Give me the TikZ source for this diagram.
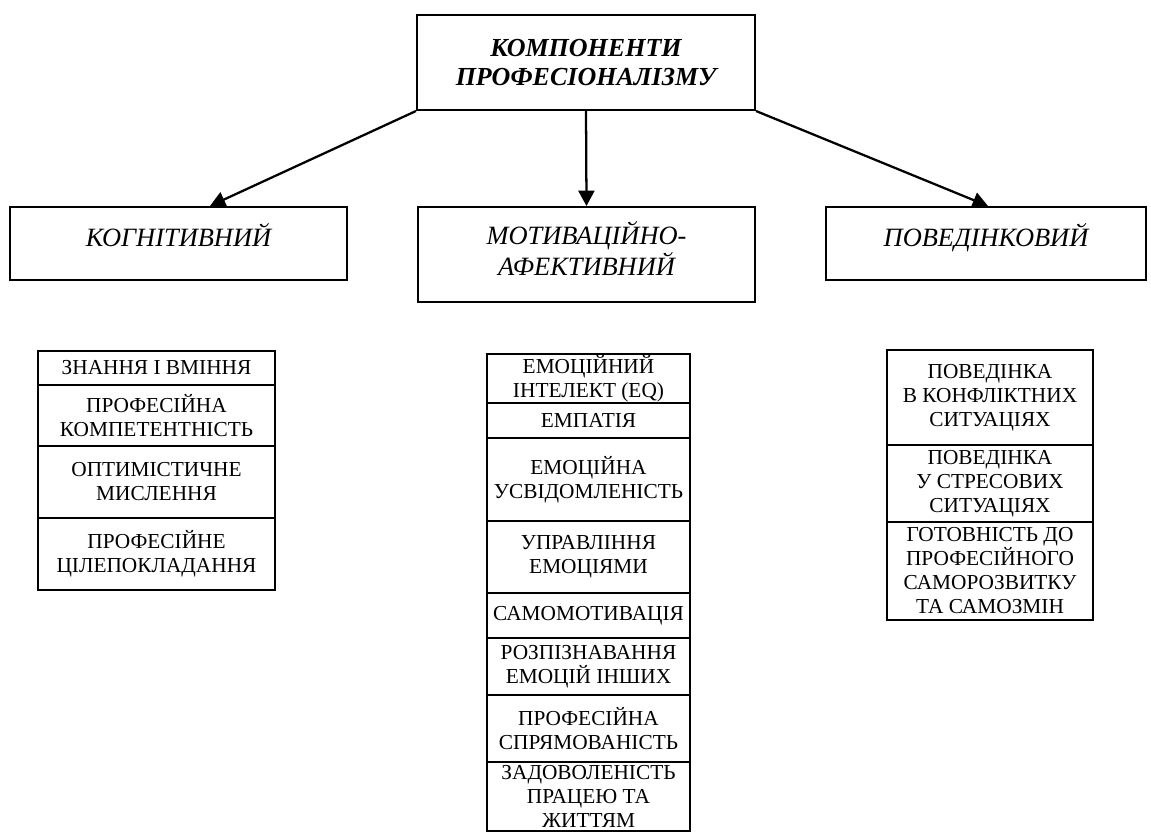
\documentclass[tikz,border=0pt]{standalone}
\usepackage{fontspec}
\setmainfont{Liberation Serif}
\usetikzlibrary{arrows.meta}
\tikzset{
  frame/.style={draw, line width=1.5pt, inner sep=0pt, align=center},
  topbox/.style={frame, font=\fontsize{19.5}{21.75}\selectfont\bfseries\itshape},
  compbox/.style={frame, font=\fontsize{19.8}{23.25}\selectfont\itshape},
  rowbox/.style={frame, font=\fontsize{16}{18}\selectfont},
  arr/.style={line width=1.7pt, -{Triangle[length=11.5pt,width=12pt]}}
}
\newcommand\pbox[7]{\node[#1, minimum width={(#5-#3)*0.75pt}, minimum height={(#6-#4)*0.75pt}] (#2) at ({(#3+#5)/2},{(#4+#6)/2}) {#7};}
\begin{document}
\begin{tikzpicture}[x=0.75pt, y=-0.75pt]
\useasboundingbox[fill=white] (0,0) rectangle (1151,832);
% top
\pbox{topbox}{top}{417}{15}{755}{110}{КОМПОНЕНТИ\\ПРОФЕСІОНАЛІЗМУ}
% components
\pbox{compbox, text depth=13pt}{cog}{10}{207}{347}{280}{КОГНІТИВНИЙ}
\pbox{compbox, text depth=9pt}{mot}{418}{207}{755}{302}{МОТИВАЦІЙНО-\\АФЕКТИВНИЙ}
\pbox{compbox, text depth=13pt}{beh}{826}{207}{1146}{280}{ПОВЕДІНКОВИЙ}
% arrows
\draw[arr] (top.south west) -- ([xshift=23.6pt]cog.north);
\draw[arr] (top.south) -- (mot.north);
\draw[arr] (top.south east) -- ([xshift=1.5pt]beh.north);
% left list
\pbox{rowbox}{c1}{38}{351}{275}{385}{ЗНАННЯ І ВМІННЯ}
\pbox{rowbox}{c2}{38}{385}{275}{446}{ПРОФЕСІЙНА\\КОМПЕТЕНТНІСТЬ}
\pbox{rowbox}{c3}{38}{446}{275}{518}{ОПТИМІСТИЧНЕ\\МИСЛЕННЯ}
\pbox{rowbox}{c4}{38}{518}{275}{590}{ПРОФЕСІЙНЕ\\ЦІЛЕПОКЛАДАННЯ}
% middle list
\pbox{rowbox}{m1}{487}{354}{690}{403}{ЕМОЦІЙНИЙ\\ІНТЕЛЕКТ (EQ)}
\pbox{rowbox}{m2}{487}{403}{690}{438}{ЕМПАТІЯ}
\pbox{rowbox}{m3}{487}{438}{690}{521}{ЕМОЦІЙНА\\УСВІДОМЛЕНІСТЬ}
\pbox{rowbox}{m4}{487}{521}{690}{593}{УПРАВЛІННЯ\\ЕМОЦІЯМИ}
\pbox{rowbox}{m5}{487}{593}{690}{638}{САМОМОТИВАЦІЯ}
\pbox{rowbox}{m6}{487}{638}{690}{695}{РОЗПІЗНАВАННЯ\\ЕМОЦІЙ ІНШИХ}
\pbox{rowbox}{m7}{487}{695}{690}{762}{ПРОФЕСІЙНА\\СПРЯМОВАНІСТЬ}
\pbox{rowbox}{m8}{487}{762}{690}{831}{ЗАДОВОЛЕНІСТЬ\\ПРАЦЕЮ ТА\\ЖИТТЯМ}
% right list
\pbox{rowbox}{b1}{887}{350}{1093}{445}{ПОВЕДІНКА\\В КОНФЛІКТНИХ\\СИТУАЦІЯХ}
\pbox{rowbox}{b2}{887}{445}{1093}{522}{ПОВЕДІНКА\\У СТРЕСОВИХ\\СИТУАЦІЯХ}
\pbox{rowbox}{b3}{887}{522}{1093}{620}{ГОТОВНІСТЬ ДО\\ПРОФЕСІЙНОГО\\САМОРОЗВИТКУ\\ТА САМОЗМІН}
\end{tikzpicture}
\end{document}
